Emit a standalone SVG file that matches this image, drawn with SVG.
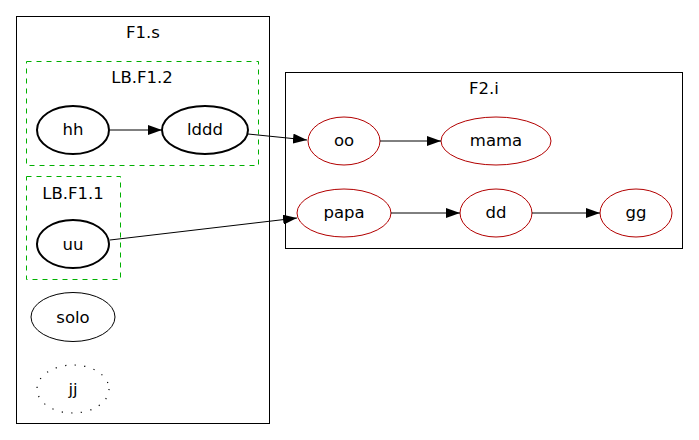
<svg xmlns="http://www.w3.org/2000/svg" width="699" height="440" viewBox="0 0 699 440">
<style>
text{font-family:"DejaVu Sans",sans-serif;font-size:16.5px;text-anchor:middle;fill:#000}
.cl{fill:none;stroke:#000;stroke-width:1}
.lb{fill:none;stroke:#00b000;stroke-width:1;stroke-dasharray:5,5}
.bold{fill:none;stroke:#000;stroke-width:2}
.plain{fill:none;stroke:#000;stroke-width:1}
.dot{fill:none;stroke:#000;stroke-width:1.2;stroke-dasharray:1.2,8.4}
.red{fill:none;stroke:#b20000;stroke-width:1}
.e{fill:none;stroke:#000;stroke-width:1}
</style>
<defs>
<marker id="ah" markerWidth="14" markerHeight="10" refX="14" refY="5" orient="auto" markerUnits="userSpaceOnUse">
<path d="M0,0 L14,5 L0,10 Z" fill="#000"/>
</marker>
</defs>
<rect width="699" height="440" fill="#fff"/>
<g id="cluster_F1s">
<rect class="cl" x="16.5" y="16.5" width="253" height="407"/>
<text x="143" y="38">F1.s</text>
</g>
<g id="cluster_LBF12">
<rect class="lb" x="26.5" y="61.5" width="232" height="104"/>
<text x="142" y="83">LB.F1.2</text>
</g>
<g id="cluster_LBF11">
<rect class="lb" x="26.5" y="176.5" width="94" height="103"/>
<text x="73" y="199">LB.F1.1</text>
</g>
<g id="cluster_F2i">
<rect class="cl" x="285.5" y="72.5" width="397" height="176"/>
<text x="484" y="94">F2.i</text>
</g>
<g id="hh"><ellipse class="bold" cx="73" cy="130" rx="36" ry="24"/><text x="73" y="135">hh</text></g>
<g id="lddd"><ellipse class="bold" cx="205" cy="130" rx="43" ry="24"/><text x="205" y="135">lddd</text></g>
<g id="uu"><ellipse class="bold" cx="73" cy="244" rx="36" ry="24"/><text x="73" y="250">uu</text></g>
<g id="solo"><ellipse class="plain" cx="73" cy="317" rx="42" ry="24.5"/><text x="73" y="323">solo</text></g>
<g id="jj"><ellipse class="dot" cx="73" cy="389" rx="36" ry="24"/><text x="73" y="395">jj</text></g>
<g id="oo"><ellipse class="red" cx="344" cy="141" rx="36" ry="24"/><text x="344" y="146">oo</text></g>
<g id="mama"><ellipse class="red" cx="496" cy="141" rx="55" ry="24"/><text x="496" y="146">mama</text></g>
<g id="papa"><ellipse class="red" cx="344" cy="213" rx="47" ry="24"/><text x="344" y="218">papa</text></g>
<g id="dd"><ellipse class="red" cx="496" cy="213" rx="36" ry="24"/><text x="496" y="218">dd</text></g>
<g id="gg"><ellipse class="red" cx="636" cy="213" rx="36" ry="24"/><text x="636" y="218">gg</text></g>
<g id="edges">
<path class="e" d="M110,130 L162,130" marker-end="url(#ah)"/>
<path class="e" d="M248,134 L307,140" marker-end="url(#ah)"/>
<path class="e" d="M110,240 L297,218" marker-end="url(#ah)"/>
<path class="e" d="M380,141 L441,141" marker-end="url(#ah)"/>
<path class="e" d="M391,213 L460,213" marker-end="url(#ah)"/>
<path class="e" d="M532,213 L600,213" marker-end="url(#ah)"/>
</g>
</svg>
